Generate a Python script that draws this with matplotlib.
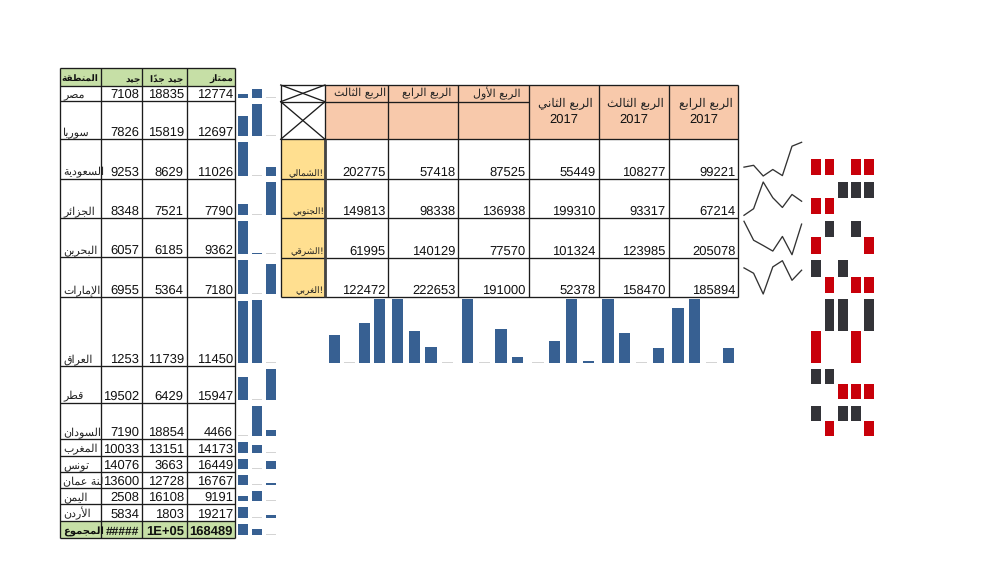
import matplotlib
matplotlib.use("Agg")
import matplotlib.pyplot as plt
from matplotlib.patches import Rectangle

plt.rcParams["text.hinting"] = "no_hinting"
plt.rcParams["text.hinting_factor"] = 1

# ---------- data ----------
regions = ["مصر", "سوريا", "السعودية", "الجزائر", "البحرين", "الإمارات", "العراق",
           "قطر", "السودان", "المغرب", "تونس", "لنة عمان", "اليمن", "الأردن"]
excellent = [12774, 12697, 11026, 7790, 9362, 7180, 11450, 15947, 4466, 14173, 16449, 16767, 9191, 19217]
very_good = [18835, 15819, 8629, 7521, 6185, 5364, 11739, 6429, 18854, 13151, 3663, 12728, 16108, 1803]
good = [7108, 7826, 9253, 8348, 6057, 6955, 1253, 19502, 7190, 10033, 14076, 13600, 2508, 5834]
left_headers = ["المنطقة", "جيد", "جيد جداً", "ممتاز"]
total_label = "المجموع"
total_texts = ["#####", "1E+05", "168489"]

sectors = ["الشمالي", "الجنوبي", "الشرقي", "الغربي"]
quarter_heads = ["الربع الثالث", "الربع الرابع", "الربع الأول", "الربع الثاني", "الربع الثالث", "الربع الرابع"]
quarter_years = ["", "", "", "2017", "2017", "2017"]
q_values = [
    [202775, 57418, 87525, 55449, 108277, 99221],
    [149813, 98338, 136938, 199310, 93317, 67214],
    [61995, 140129, 77570, 101324, 123985, 205078],
    [122472, 222653, 191000, 52378, 158470, 185894],
]
line_extra = [222000, 123000, 193000, 174000]
winloss = [
    [-1, -1, 0, -1, -1],
    [-1, -1, 1, 1, 1],
    [-1, 1, 0, 1, -1],
    [1, -1, 1, -1, -1],
    [-1, 1, 1, -1, 1],
    [1, 1, -1, -1, -1],
    [1, -1, 1, 1, -1],
]

# ---------- style / layout ----------
BLUE = "#376092"
STUB = "#D4D4D4"
RED = "#C8000A"
DARK = "#333338"
GREEN = "#C6DFA6"
PEACH = "#F8C9AB"
YELLOW = "#FFDF90"
LINE = "#1c1c1c"
NUM_FS = 9.4
AR_FS = 8.0

left_x = [60, 100.7, 142, 186.7, 234.5]
left_y = [68, 85.7, 101, 139, 178.7, 218, 257, 296.7, 366, 402.7, 439, 455.7, 472, 488, 504, 520.7, 538]
spark_x = [238.3, 252.3, 266.3]
spark_w = 9.8
right_x = [280.7, 325, 388.3, 458.3, 528.7, 598.7, 668.7, 738.3]
right_y = [85, 139.3, 179, 218.3, 257.7, 297]
head_split = 101.7
col_bars_y = (299.3, 362.5)
col_bar_step = [15.0, 16.7, 16.7, 16.7, 16.7, 16.7]
col_bar_off = [3.7, 3.7, 3.7, 3.7, 3.7, 3.7]
col_bar_w = 11.2
line_x0, line_dx = 744.0, 9.6
wl_x = [811.3, 824.7, 838.0, 851.3, 864.3]
wl_w = 9.6
wl_rows = [(142.7, 174.7), (181.7, 214.3), (220.7, 253.7), (260, 293), (299.3, 362.5), (369, 399), (405.7, 436)]

# ---------- Arabic shaping (no shaping engine in matplotlib) ----------
_start = {"ء": (0xFE80, 1), "آ": (0xFE81, 2), "أ": (0xFE83, 2), "ؤ": (0xFE85, 2), "إ": (0xFE87, 2),
          "ئ": (0xFE89, 4), "ا": (0xFE8D, 2), "ب": (0xFE8F, 4), "ة": (0xFE93, 2), "ت": (0xFE95, 4),
          "ث": (0xFE99, 4), "ج": (0xFE9D, 4), "ح": (0xFEA1, 4), "خ": (0xFEA5, 4), "د": (0xFEA9, 2),
          "ذ": (0xFEAB, 2), "ر": (0xFEAD, 2), "ز": (0xFEAF, 2), "س": (0xFEB1, 4), "ش": (0xFEB5, 4),
          "ص": (0xFEB9, 4), "ض": (0xFEBD, 4), "ط": (0xFEC1, 4), "ظ": (0xFEC5, 4), "ع": (0xFEC9, 4),
          "غ": (0xFECD, 4), "ف": (0xFED1, 4), "ق": (0xFED5, 4), "ك": (0xFED9, 4), "ل": (0xFEDD, 4),
          "م": (0xFEE1, 4), "ن": (0xFEE5, 4), "ه": (0xFEE9, 4), "و": (0xFEED, 2), "ى": (0xFEEF, 2),
          "ي": (0xFEF1, 4)}
_lam_alef = {"ا": 0xFEFB, "أ": 0xFEF7, "إ": 0xFEF9, "آ": 0xFEF5}
_marks = "\u064B\u064C\u064D\u064E\u064F\u0650\u0651\u0652"


def shape(word):
    base, marks = [], []
    for c in word:
        if c in _marks and base:
            marks[-1] += c
        else:
            base.append(c)
            marks.append("")
    out, i = [], 0
    while i < len(base):
        c = base[i]
        prev_joins = i > 0 and base[i - 1] in _start and _start[base[i - 1]][1] == 4
        if i >= 2 and base[i - 1] in _lam_alef and base[i - 2] == "ل":
            prev_joins = False
        if c == "ل" and i + 1 < len(base) and base[i + 1] in _lam_alef:
            out.append(chr(_lam_alef[base[i + 1]] + (1 if prev_joins else 0)))
            i += 2
            continue
        if c not in _start:
            out.append(c + marks[i])
            i += 1
            continue
        cp, n = _start[c]
        next_joins = i + 1 < len(base) and base[i + 1] in _start and n == 4
        if prev_joins and next_joins:
            g = cp + 3
        elif next_joins:
            g = cp + 2
        elif prev_joins:
            g = cp + 1
        else:
            g = cp
        out.append(chr(g) + marks[i])
        i += 1
    return "".join(out[::-1])


def ar(s):
    return " ".join(shape(w) for w in s.split(" ")[::-1])


AFAM = ["DejaVu Sans"]
NFAM = ["Liberation Sans"]

fig = plt.figure(figsize=(10, 5.79), dpi=100)
ax = fig.add_axes([0, 0, 1, 1])
ax.set_xlim(0, 1000)
ax.set_ylim(579, 0)
ax.axis("off")


def box(x0, y0, x1, y1, color):
    ax.add_patch(Rectangle((x0, y0), x1 - x0, y1 - y0, fc=color, ec="none", zorder=1))


def grid(xs, ys, lw=0.95):
    ax.vlines(xs, ys[0], ys[-1], color=LINE, lw=lw, zorder=3)
    ax.hlines(ys, xs[0], xs[-1], color=LINE, lw=lw, zorder=3)


def spark_bars(xs, w, vals, top, bottom):
    lo, hi = min(vals), max(vals)
    for x, v in zip(xs, vals):
        frac = (v - lo) / (hi - lo)
        if frac == 0:
            ax.bar(x, 1.0, width=w, bottom=bottom - 1.0, align="edge", color=STUB, zorder=2)
        else:
            ax.bar(x, -(frac * (bottom - top)), width=w, bottom=bottom, align="edge", color=BLUE, zorder=2)


# ---------- left table ----------
box(left_x[0], left_y[0], left_x[-1], left_y[1], GREEN)
box(left_x[0], left_y[-2], left_x[-1], left_y[-1], GREEN)
grid(left_x, left_y)

hdr_right = [left_x[1] - 2.5, left_x[2] - 1.5, left_x[3] - 3, left_x[4] - 1.5]
for xr, h in zip(hdr_right, left_headers):
    ax.text(xr, left_y[1] - 4, ar(h), ha="right", va="baseline", fontsize=6.6,
            fontweight="bold", family=AFAM, color="#111111", zorder=4)

pads = [3, 3, 1.5]
for i, name in enumerate(regions):
    y0, y1 = left_y[i + 1], left_y[i + 2]
    base = y1 - 3
    ax.text(left_x[0] + 3, base, ar(name), ha="left", va="baseline", fontsize=AR_FS,
            family=AFAM, color="#222222", zorder=4)
    for j, col in enumerate((good, very_good, excellent)):
        ax.text(left_x[j + 2] - pads[j], base, str(col[i]), ha="right", va="baseline",
                fontsize=NUM_FS, family=NFAM, color="#111111", zorder=4)
    spark_bars(spark_x, spark_w, [excellent[i], very_good[i], good[i]], y0 + 3, y1 - 3)

# totals row
y0, y1 = left_y[-2], left_y[-1]
ax.text(left_x[0] + 3, y1 - 3.5, ar(total_label), ha="left", va="baseline", fontsize=6.9,
        fontweight="bold", family=AFAM, color="#111111", zorder=4)
total_fs = [8.6, NUM_FS, NUM_FS]
for j, s in enumerate(total_texts):
    ax.text(left_x[j + 2] - pads[j], y1 - 3, s, ha="right", va="baseline", fontsize=total_fs[j],
            fontweight="bold", family=NFAM, color="#111111", zorder=4)
spark_bars(spark_x, spark_w, [sum(excellent), sum(very_good), sum(good)], y0 + 3, y1 - 3)

# ---------- right table ----------
box(right_x[1], right_y[0], right_x[-1], right_y[1], PEACH)
box(right_x[0], right_y[1], right_x[1], right_y[-1], YELLOW)
grid(right_x, right_y)
ax.hlines(head_split, right_x[0], right_x[4], color=LINE, lw=0.95, zorder=3)
ax.vlines(right_x[1], right_y[1], right_y[-1], color="#444444", lw=2.0, zorder=3)
for (a, b) in [(right_y[0], head_split), (head_split, right_y[1])]:
    ax.plot([right_x[0], right_x[1]], [a, b], color=LINE, lw=0.95, zorder=3)
    ax.plot([right_x[0], right_x[1]], [b, a], color=LINE, lw=0.95, zorder=3)

for c, (h, yr) in enumerate(zip(quarter_heads, quarter_years)):
    xm = (right_x[c + 1] + right_x[c + 2]) / 2
    if yr:
        ax.text(xm + 2, 103.5, ar(h), ha="center", va="center", fontsize=AR_FS + 0.3, family=AFAM,
                color="#222222", zorder=4)
        ax.text(xm, 120, yr, ha="center", va="center", fontsize=NUM_FS, family=NFAM,
                color="#111111", zorder=4)
    else:
        ax.text(xm + 3, 93, ar(h), ha="center", va="center", fontsize=AR_FS - 0.3, family=AFAM,
                color="#222222", zorder=4)

for r, row in enumerate(q_values):
    base = right_y[r + 2] - 3.3
    ax.text(right_x[1] - 1, base, ar(sectors[r]) + "!", ha="right", va="baseline", fontsize=6.8,
            family=AFAM, color="#222222", zorder=4)
    for c, v in enumerate(row):
        ax.text(right_x[c + 2] - 3, base, str(v), ha="right", va="baseline", fontsize=NUM_FS,
                family=NFAM, color="#111111", zorder=4)

# column sparkbars (bottom row of table first)
for c in range(6):
    vals = [q_values[r][c] for r in (3, 2, 1, 0)]
    xs = [right_x[c + 1] + col_bar_off[c] + k * col_bar_step[c] for k in range(4)]
    spark_bars(xs, col_bar_w, vals, col_bars_y[0], col_bars_y[1])

# ---------- line sparklines ----------
for r, row in enumerate(q_values):
    series = row[::-1] + [line_extra[r]]
    lo, hi = min(series), max(series)
    top, bottom = right_y[r + 1] + 3, right_y[r + 2] - 3
    xs = [line_x0 + k * line_dx for k in range(len(series))]
    ys = [bottom - (v - lo) / (hi - lo) * (bottom - top) for v in series]
    ax.plot(xs, ys, color="#333333", lw=0.95, zorder=2)

# ---------- win / loss ----------
for (top, bottom), row in zip(wl_rows, winloss):
    mid = (top + bottom) / 2
    for x, v in zip(wl_x, row):
        if v > 0:
            ax.bar(x, mid - top, width=wl_w, bottom=top, align="edge", color=DARK, zorder=2)
        elif v < 0:
            ax.bar(x, bottom - mid, width=wl_w, bottom=mid, align="edge", color=RED, zorder=2)

fig.savefig("out.png", dpi=100, facecolor="white")
